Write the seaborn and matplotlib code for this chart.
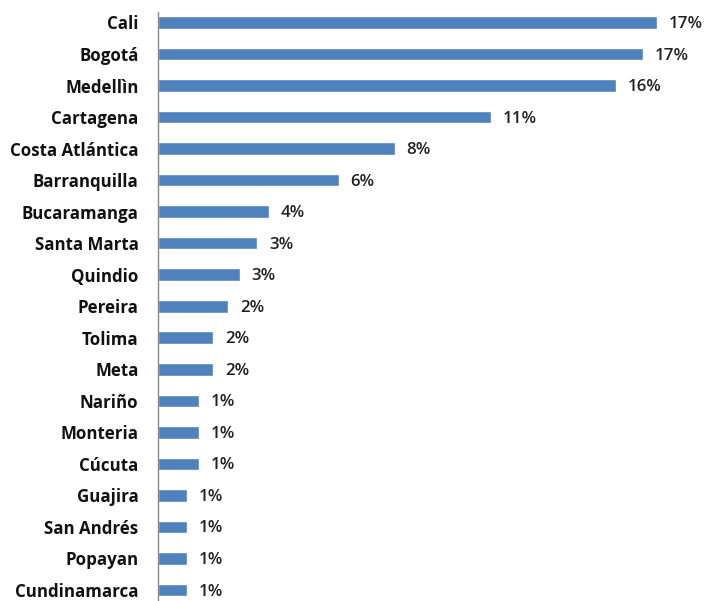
import matplotlib
matplotlib.use("Agg")
import matplotlib.pyplot as plt
import seaborn as sns
import pandas as pd

cities = ["Cali", "Bogotá", "Medellìn", "Cartagena", "Costa Atlántica", "Barranquilla",
          "Bucaramanga", "Santa Marta", "Quindio", "Pereira", "Tolima", "Meta",
          "Nariño", "Monteria", "Cúcuta", "Guajira", "San Andrés", "Popayan",
          "Cundinamarca"]
shares = [17.1, 16.6, 15.7, 11.4, 8.1, 6.2, 3.8, 3.4, 2.8, 2.4, 1.9, 1.9,
          1.4, 1.4, 1.4, 1.0, 1.0, 1.0, 1.0]

df = pd.DataFrame({"ciudad": cities, "pct": shares})

sns.set_theme(style="white")
plt.rcParams["font.family"] = ["Open Sans", "DejaVu Sans"]

fig = plt.figure(figsize=(7.07, 6.01), dpi=100)
ax = fig.add_axes([158 / 707, 0.0, 542 / 707, 589 / 601])

sns.barplot(data=df, x="pct", y="ciudad", orient="h", color="#4F81BD",
            saturation=1, width=0.4, ax=ax)

for i, v in enumerate(shares):
    ax.text(v + 0.4, i + 0.05, f"{v:.0f}%", va="center", ha="left",
            fontsize=12.2, fontweight="semibold", color="#222222")

ax.set_xlim(0, 542 / 29.2)
ax.set_ylim(18.35, -0.333)
ax.set_xlabel("")
ax.set_ylabel("")
ax.set_xticks([])
for s in ["top", "right", "bottom"]:
    ax.spines[s].set_visible(False)
ax.spines["left"].set_color("#888888")
ax.spines["left"].set_linewidth(1.0)
ax.tick_params(axis="y", length=0, pad=14)
for lbl in ax.get_yticklabels():
    lbl.set_fontsize(12.2)
    lbl.set_fontweight("bold")
    lbl.set_color("#111111")

fig.savefig("out.png", dpi=100)
